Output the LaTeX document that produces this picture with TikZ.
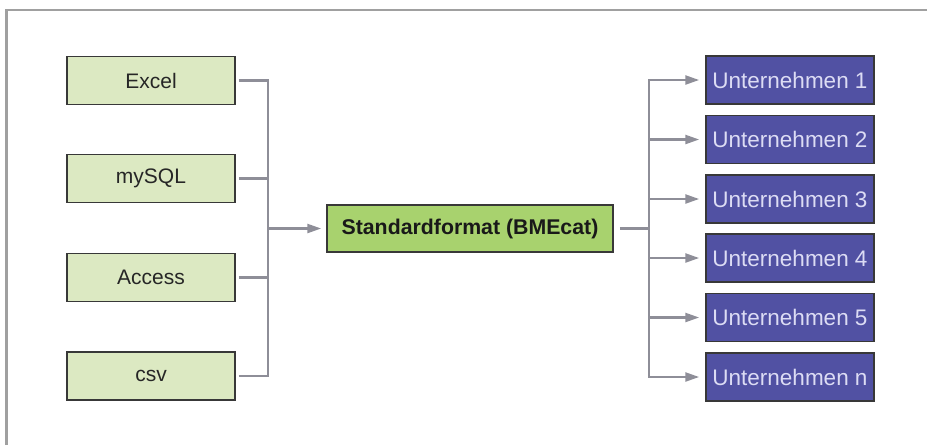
\documentclass[tikz,border=0pt]{standalone}
\usepackage{fontspec}
\setmainfont{Liberation Sans}
\usetikzlibrary{arrows.meta}
\definecolor{frameg}{HTML}{A0A0A0}
\definecolor{conng}{HTML}{8E8E98}
\definecolor{srcfill}{HTML}{DCE9C2}
\definecolor{midfill}{HTML}{A8D26E}
\definecolor{tgtfill}{HTML}{5151A3}
\definecolor{tgttext}{HTML}{DCDCF4}
\definecolor{edge}{HTML}{383838}
\tikzset{
  srcbox/.style={draw=edge, line width=1.5pt, fill=srcfill, minimum width=168pt, minimum height=48pt, inner sep=0pt, font=\fontsize{21}{24}\selectfont, text=black!85},
  midbox/.style={draw=edge, line width=1.5pt, fill=midfill, minimum width=286pt, minimum height=47pt, inner sep=0pt, font=\fontsize{21.3}{24}\selectfont\bfseries, text=black!90},
  tgtbox/.style={draw=edge, line width=1.5pt, fill=tgtfill, minimum width=168pt, minimum height=48pt, inner sep=0pt, font=\fontsize{22.5}{24}\selectfont, text=tgttext},
  conn/.style={draw=conng, line width=2.4pt},
  arr/.style={conn, -{Triangle[length=14pt,width=9pt]}}
}
\begin{document}
\begin{tikzpicture}[x=1pt,y=-1pt]
\useasboundingbox (0,0) rectangle (927,445);
\draw[frameg, line width=2.2pt] (6.5,445) -- (6.5,10) -- (927,10);
% sources
\node[srcbox] (e1) at (151,80.5) {Excel};
\node[srcbox] (e2) at (151,178.5) {mySQL};
\node[srcbox] (e3) at (151,277.5) {Access};
\node[srcbox] (e4) at (151,376) {csv};
% center
\node[midbox] (c) at (470,228.5) {Standardformat (BMEcat)};
% targets
\node[tgtbox] (u1) at (790,80) {Unternehmen 1};
\node[tgtbox] (u2) at (790,139.5) {Unternehmen 2};
\node[tgtbox] (u3) at (790,199) {Unternehmen 3};
\node[tgtbox] (u4) at (790,258) {Unternehmen 4};
\node[tgtbox] (u5) at (790,317.5) {Unternehmen 5};
\node[tgtbox] (u6) at (790,377) {Unternehmen n};
% junctions
\coordinate (jl) at (268,228.5);
\coordinate (jr) at (649,228.5);
\foreach \n in {e1,e2,e3,e4}{
  \draw[conn, shorten <=3pt] (\n.east) -| (jl);
}
\draw[arr, shorten >=5pt] (jl) -- (c.west);
\draw[conn, shorten <=6pt] (c.east) -- (jr);
\foreach \n in {u1,u2,u3,u4,u5,u6}{
  \draw[arr, shorten >=6pt] (jr) |- (\n.west);
}
\end{tikzpicture}
\end{document}
